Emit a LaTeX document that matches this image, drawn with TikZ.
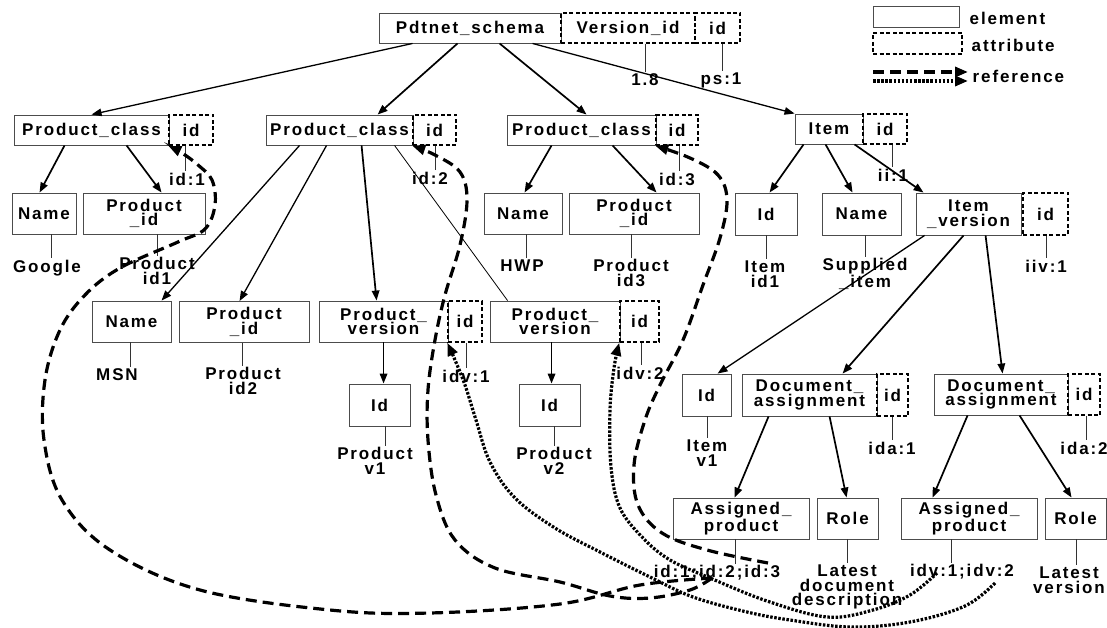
\documentclass[tikz,border=0pt]{standalone}
\usepackage{fontspec}
\setmainfont{Liberation Sans}
\newfontfamily\lsf[LetterSpace=11]{Liberation Sans}
\usetikzlibrary{arrows.meta,calc}
\begin{document}
\begin{tikzpicture}[x=1pt,y=-1pt,
  every node/.style={font=\lsf\bfseries\fontsize{17pt}{14.5pt}\selectfont},
  elem/.style={draw=black!70, line width=0.9pt, inner sep=0pt, align=center},
  attr/.style={draw=black, line width=1.5pt, dash pattern=on 4pt off 2.5pt, inner sep=0pt, align=center},
  val/.style={inner sep=1.5pt, align=center},
  vline/.style={line width=0.8pt, draw=black!80},
  arr/.style={-{Triangle[length=10pt,width=7.5pt]}, line width=1.7pt},
  tarr/.style={-{Triangle[length=10pt,width=7.5pt]}, line width=1.3pt},
  thinl/.style={line width=0.8pt},
  dref/.style={-{Triangle[length=13pt,width=10pt]}, line width=3.2pt, dash pattern=on 11pt off 6pt},
  pref/.style={-{Triangle[length=13pt,width=10pt]}, line width=3.2pt, dash pattern=on 2.5pt off 1.6pt},
]
\useasboundingbox (0,0) rectangle (1107,628);

% ---------- legend ----------
\node[elem, minimum width=86pt, minimum height=21pt] (lgE) at (916,16.5) {};
\node[val, anchor=west] (lgEt) at (968,18) {element};
\node[attr, minimum width=89pt, minimum height=21pt] (lgA) at (917.5,43.5) {};
\node[val, anchor=west] (lgAt) at (970,45) {attribute};
\node[val, anchor=west] (lgRt) at (971,76) {reference};
\coordinate (lgR1) at (873,72);
\coordinate (lgR2) at (873,81);
\draw[dref] (lgR1) -- ([xshift=-3pt]lgR1 -| lgRt.west);
\draw[pref] (lgR2) -- ([xshift=-3pt]lgR2 -| lgRt.west);

% ---------- root ----------
\node[elem, minimum width=182pt, minimum height=30pt] (ps) at (470,28) {Pdtnet\_schema};
\node[attr, minimum width=134pt, minimum height=30pt] (psv) at (628,28) {Version\_id};
\node[attr, minimum width=45pt, minimum height=30pt] (psid) at (717.5,28) {id};
\node[val] (v18) at (645,80) {1.8};
\node[val] (vps1) at (721,80) {ps:1};

% ---------- level 2 ----------
\node[elem, minimum width=155pt, minimum height=30pt] (pc1) at (91.5,130) {Product\_class};
\node[attr, minimum width=44pt, minimum height=30pt] (id1) at (191,130) {id};
\node[elem, minimum width=147pt, minimum height=30pt] (pc2) at (339.5,130) {Product\_class};
\node[attr, minimum width=43pt, minimum height=30pt] (id2) at (434.5,130) {id};
\node[elem, minimum width=149pt, minimum height=30pt] (pc3) at (581.5,130) {Product\_class};
\node[attr, minimum width=42pt, minimum height=30pt] (id3) at (677,130) {id};
\node[elem, minimum width=68pt, minimum height=30pt] (item) at (829,129) {Item};
\node[attr, minimum width=44pt, minimum height=30pt] (itemid) at (885,129) {id};
\node[val] (vid1) at (187,179) {id:1};
\node[val] (vid2) at (430,178) {id:2};
\node[val] (vid3) at (677,179) {id:3};
\node[val] (vii1) at (893,175) {ii:1};

% ---------- level 3 ----------
\node[elem, minimum width=64pt, minimum height=41pt] (name1) at (44,213.5) {Name};
\node[elem, minimum width=122pt, minimum height=41pt] (pid1) at (144,213.5) {Product\\\_id};
\node[elem, minimum width=78pt, minimum height=41pt] (name3) at (523,213.5) {Name};
\node[elem, minimum width=130pt, minimum height=41pt] (pid3) at (634,213.5) {Product\\\_id};
\node[elem, minimum width=62pt, minimum height=42pt] (iid) at (766,214) {Id};
\node[elem, minimum width=79pt, minimum height=42pt] (iname) at (861.5,214) {Name};
\node[elem, minimum width=105pt, minimum height=42pt] (iv) at (968.5,214) {Item\\\_version};
\node[attr, minimum width=45pt, minimum height=42pt] (ivid) at (1045.5,214) {id};
\node[val] (vgoogle) at (47,268) {Google};
\node[val] (vpid1) at (157,271) {Product\\id1};
\node[val] (vhwp) at (522,266) {HWP};
\node[val] (vpid3) at (631,273) {Product\\id3};
\node[val] (viid1) at (765,274) {Item\\id1};
\node[val] (vsup) at (865,274) {Supplied\\\_item};
\node[val] (viiv1) at (1046,266) {iiv:1};

% ---------- level 4 ----------
\node[elem, minimum width=79pt, minimum height=41pt] (name2) at (131.5,321.5) {Name};
\node[elem, minimum width=130pt, minimum height=41pt] (pid2) at (244,322) {Product\\\_id};
\node[elem, minimum width=129pt, minimum height=41pt] (pv1) at (383.5,321.5) {Product\_\\version};
\node[attr, minimum width=34pt, minimum height=41pt] (pv1id) at (465,321.5) {id};
\node[elem, minimum width=130pt, minimum height=41pt] (pv2) at (555,321.5) {Product\_\\version};
\node[attr, minimum width=39pt, minimum height=41pt] (pv2id) at (639.5,321.5) {id};
\node[val] (vmsn) at (117,375) {MSN};
\node[val] (vpid2) at (243,381) {Product\\id2};
\node[val] (vidv1) at (466,376) {idv:1};
\node[val] (vidv2) at (640,373) {idv:2};

% ---------- level 5 ----------
\node[elem, minimum width=61pt, minimum height=42pt] (pv1i) at (379.5,405) {Id};
\node[elem, minimum width=61pt, minimum height=42pt] (pv2i) at (549.5,405) {Id};
\node[elem, minimum width=49pt, minimum height=42pt] (ivi) at (706.5,395) {Id};
\node[elem, minimum width=135pt, minimum height=42pt] (da1) at (809.5,395) {Document\_\\assignment};
\node[attr, minimum width=31pt, minimum height=42pt] (da1id) at (892.5,395) {id};
\node[elem, minimum width=134pt, minimum height=41pt] (da2) at (1001,394.5) {Document\_\\assignment};
\node[attr, minimum width=32pt, minimum height=41pt] (da2id) at (1084,394.5) {id};
\node[val] (vpv1) at (375,461) {Product\\v1};
\node[val] (vpv2) at (554,461) {Product\\v2};
\node[val] (viv1) at (707,453) {Item\\v1};
\node[val] (vida1) at (892,448) {ida:1};
\node[val] (vida2) at (1084,448) {ida:2};

% ---------- level 6 ----------
\node[elem, minimum width=136pt, minimum height=41pt] (ap1) at (741,518.5) {Assigned\_\\product};
\node[elem, minimum width=61pt, minimum height=41pt] (role1) at (847.5,518.5) {Role};
\node[elem, minimum width=136pt, minimum height=41pt] (ap2) at (969,518.5) {Assigned\_\\product};
\node[elem, minimum width=61pt, minimum height=41pt] (role2) at (1075.5,518.5) {Role};
\node[val] (vref) at (717,573) {id:1;id:2;id:3};
\node[val] (vlat1) at (847,587) {Latest\\document\\description};
\node[val] (vidvs) at (962,572) {idv:1;idv:2};
\node[val] (vlat2) at (1069,580) {Latest\\version};

% ---------- value lines ----------
\foreach \b/\d/\l in {psv/17/v18, psid/4.5/vps1, id1/-6/vid1, id2/0.5/vid2, id3/2/vid3,
  itemid/7/vii1, name1/7/vgoogle, pid1/13/vpid1, name3/3/vhwp, pid3/-3/vpid3,
  iid/0/viid1, iname/3.5/vsup, ivid/0.5/viiv1, name2/-1.5/vmsn, pid2/-2/vpid2,
  pv1id/1/vidv1, pv2id/1.5/vidv2, pv1i/5.5/vpv1, pv2i/4.5/vpv2, ivi/0.5/viv1,
  da1id/-0.5/vida1, da2id/2/vida2, ap1/-6/vref, role1/-0.5/vlat1, ap2/-18/vidvs,
  role2/0.5/vlat2}
  \draw[vline] ([xshift=\d pt]\b.south) -- ([xshift=\d pt]\b.south |- \l.north);

% ---------- tree connectors ----------
\draw[tarr] ([xshift=34pt]ps.south west) -- ([xshift=78pt]pc1.north west);
\draw[arr] ([xshift=79pt]ps.south west) -- ([xshift=112pt]pc2.north west);
\draw[arr] ([xshift=121pt]ps.south west) -- ([xshift=80pt]pc3.north west);
\draw[tarr] ([xshift=154pt]ps.south west) -- (item.north west);

\draw[arr] ([xshift=51pt]pc1.south west) -- ([xshift=28pt]name1.north west);
\draw[arr] ([xshift=113pt]pc1.south west) -- ([xshift=79pt]pid1.north west);

\draw[tarr] ([xshift=34pt]pc2.south west) -- ([xshift=70pt]name2.north west);
\draw[tarr] ([xshift=61pt]pc2.south west) -- ([xshift=61pt]pid2.north west);
\draw[arr] ([xshift=96pt]pc2.south west) -- ([xshift=58pt]pv1.north west);
\draw[thinl] ([xshift=129pt]pc2.south west) -- ([xshift=18pt]pv2.north west);

\draw[arr] ([xshift=45pt]pc3.south west) -- ([xshift=41pt]name3.north west);
\draw[arr] ([xshift=106pt]pc3.south west) -- ([xshift=88pt]pid3.north west);

\draw[arr] ([xshift=9pt]item.south west) -- ([xshift=35pt]iid.north west);
\draw[arr] ([xshift=31pt]item.south west) -- ([xshift=31pt]iname.north west);
\draw[arr] ([xshift=60pt]item.south west) -- ([xshift=8pt]iv.north west);

\draw[arr] ([xshift=65pt]pv1.south west) -- ([xshift=35pt]pv1i.north west);
\draw[arr] ([xshift=62pt]pv2.south west) -- ([xshift=33pt]pv2i.north west);

\draw[tarr] ([xshift=9pt]iv.south west) -- ([xshift=36pt]ivi.north west);
\draw[arr] ([xshift=48pt]iv.south west) -- ([xshift=101pt]da1.north west);
\draw[arr] ([xshift=70pt]iv.south west) -- ([xshift=69pt]da2.north west);

\draw[arr] ([xshift=27pt]da1.south west) -- ([xshift=62pt]ap1.north west);
\draw[arr] ([xshift=88pt]da1.south west) -- ([xshift=30pt]role1.north west);
\draw[arr] ([xshift=34pt]da2.south west) -- ([xshift=32pt]ap2.north west);
\draw[arr] ([xshift=86pt]da2.south west) -- ([xshift=27pt]role2.north west);

% ---------- reference curves ----------
\coordinate (rA) at (712,578);
\coordinate (rC) at (768,563);
\coordinate (rD) at (995,583);
\coordinate (rE) at (937,573);

\draw[dref] plot[smooth, tension=0.6] coordinates {(rA) (640,585) (560,604) (430,613) (330,610) (200,590) (110,550) (62,500) (44,440) (45,380) (60,330) (85,295) (120,268) (178,242) (205,229) (215,205) (212,180) (198,165) (182,153) (id1.south west)};

\draw[dref] plot[smooth, tension=0.6] coordinates {(rA) (690,590) (650,598) (610,596) (560,582) (495,568) (455,540) (436,495) (428,440) (428,390) (435,340) (445,295) (460,245) (467,200) (460,172) (435,155) (id2.south west)};

\draw[dref] plot[smooth, tension=0.6] coordinates {(rC) (707,550) (662,533) (638,505) (634,465) (645,420) (660,385) (683,340) (703,285) (720,238) (727,200) (718,175) (690,158) (id3.south west)};

\draw[pref] plot[smooth, tension=0.6] coordinates {(rD) (965,606) (910,622) (850,627) (790,620) (747,612) (693,597) (650,577) (600,552) (555,528) (515,498) (490,462) (476,420) (465,385) (455,360) (pv1id.south west)};

\draw[pref] plot[smooth, tension=0.6] coordinates {(rE) (910,595) (873,610) (827,617) (767,601) (710,578) (670,560) (643,538) (620,508) (611,467) (610,410) (614,368) (pv2id.south west)};

\end{tikzpicture}
\end{document}
